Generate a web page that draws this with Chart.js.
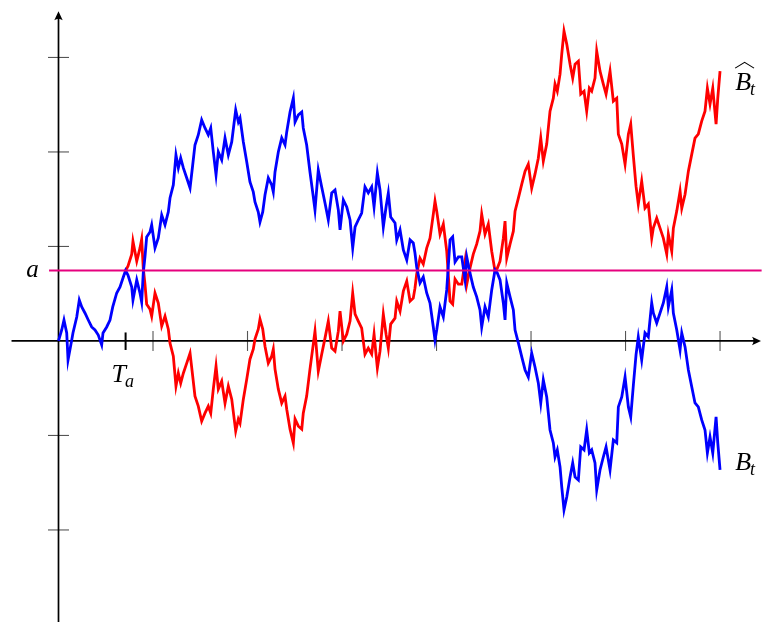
<!DOCTYPE html>
<html>
<head>
<meta charset="utf-8">
<script src="https://cdn.jsdelivr.net/npm/chart.js@4/dist/chart.umd.min.js"></script>
<style>
  html, body { margin: 0; padding: 0; background: #fff; overflow: hidden; }
  canvas { display: block; }
</style>
</head>
<body>
<canvas id="c" width="762" height="622"></canvas>
<script>
// Sample times of the Brownian path B_t
const times = [
  0, 0.034, 0.058, 0.087, 0.101, 0.140, 0.153, 0.193, 0.220, 0.246,
  0.280, 0.315, 0.351, 0.386, 0.421, 0.457, 0.471, 0.510, 0.545, 0.574,
  0.616, 0.651, 0.686, 0.71,
  0.735, 0.775, 0.788, 0.828, 0.862, 0.880, 0.897, 0.915, 0.933, 0.968,
  0.986, 1.021, 1.056, 1.092, 1.127, 1.162, 1.180, 1.215, 1.243, 1.268,
  1.293, 1.321, 1.357, 1.392, 1.420, 1.444, 1.479, 1.515, 1.550, 1.585,
  1.611, 1.638, 1.667, 1.691, 1.727, 1.762, 1.797, 1.833, 1.875, 1.903,
  1.921, 1.956, 1.992, 2.026, 2.061, 2.079, 2.114, 2.132, 2.161, 2.185,
  2.220, 2.256, 2.273, 2.291, 2.326, 2.362, 2.397, 2.415, 2.450, 2.485,
  2.503, 2.538, 2.574, 2.590, 2.626, 2.661, 2.696, 2.714, 2.749, 2.785,
  2.820, 2.855, 2.891, 2.926, 2.961, 2.979, 3.014, 3.050, 3.085, 3.113,
  3.138, 3.172, 3.208, 3.243, 3.278, 3.314, 3.339, 3.374, 3.402, 3.437,
  3.466, 3.490, 3.515, 3.561, 3.579, 3.614, 3.649, 3.685, 3.720, 3.754,
  3.772, 3.790, 3.825, 3.860, 3.896, 3.931, 3.966, 3.984, 4.002, 4.037,
  4.072, 4.108, 4.143, 4.171, 4.196, 4.231, 4.267, 4.302, 4.320, 4.354,
  4.389, 4.425, 4.460, 4.478, 4.513, 4.548, 4.584, 4.619, 4.643, 4.672,
  4.707, 4.725, 4.743, 4.778, 4.813, 4.831, 4.866, 4.902, 4.937, 4.971,
  5.007, 5.042, 5.077, 5.103, 5.130, 5.166, 5.183, 5.201, 5.236, 5.254,
  5.278, 5.307, 5.325, 5.349, 5.378, 5.413, 5.441, 5.466, 5.501, 5.526,
  5.561, 5.589, 5.617, 5.642, 5.677, 5.695, 5.730, 5.765, 5.794, 5.818,
  5.836, 5.871, 5.907, 5.924, 5.960, 5.995, 6.030, 6.055, 6.083, 6.111,
  6.135, 6.171, 6.206, 6.241, 6.277, 6.294, 6.330, 6.365, 6.400, 6.436,
  6.453, 6.489, 6.506, 6.542, 6.577, 6.595, 6.630, 6.665, 6.701, 6.735,
  6.770, 6.806, 6.841, 6.866, 6.894, 6.923, 6.958, 6.976, 7.000
];

// Values of B_t at those times
const pathB = [
  0, 0.116, 0.222, 0.085, -0.201, 0.011, 0.085, 0.254, 0.434, 0.360,
  0.296, 0.222, 0.148, 0.116, 0.063, -0.042, 0.085, 0.148, 0.222, 0.360,
  0.508, 0.571, 0.677, 0.745,
  0.698, 0.571, 0.434, 0.646, 0.508, 0.413, 0.720, 0.889, 1.101, 1.153,
  1.228, 0.984, 1.090, 1.333, 1.228, 1.365, 1.513, 1.651, 1.968, 1.831,
  1.937, 1.831, 1.725, 1.619, 1.862, 2.074, 2.180, 2.339, 2.254, 2.180,
  2.254, 2.000, 1.757, 2.000, 1.915, 2.148, 1.968, 2.106, 2.444, 2.317,
  2.360, 2.106, 1.894, 1.683, 1.577, 1.471, 1.365, 1.259, 1.365, 1.545,
  1.725, 1.651, 1.577, 1.788, 2.000, 2.148, 2.074, 2.212, 2.423, 2.571,
  2.317, 2.392, 2.423, 2.254, 2.074, 1.788, 1.524, 1.386, 1.810, 1.630,
  1.460, 1.280, 1.566, 1.598, 1.386, 1.175, 1.492, 1.418, 1.280, 0.984,
  1.206, 1.280, 1.354, 1.630, 1.566, 1.630, 1.418, 1.778, 1.598, 1.206,
  1.418, 1.566, 1.312, 1.249, 1.069, 1.175, 0.963, 0.857, 1.069, 1.037,
  0.931, 0.783, 0.614, 0.677, 0.508, 0.402, 0.148, 0.011, 0.116, 0.360,
  0.254, 0.540, 1.069, 1.101, 0.836, 0.889, 0.889, 0.646, 0.889, 0.720,
  0.571, 0.466, 0.328, 0.148, 0.360, 0.254, 0.540, 0.751, 0.720, 0.646,
  0.402, 0.222, 0.614, 0.466, 0.328, 0.116, -0.021, -0.169, -0.307, -0.381,
  -0.127, -0.275, -0.444, -0.656, -0.413, -0.593, -0.762, -0.942, -1.079, -1.228,
  -1.153, -1.333, -1.545, -1.788, -1.651, -1.439, -1.291, -1.439, -1.471, -1.122,
  -1.153, -0.942, -1.185, -1.153, -1.291, -1.577, -1.365, -1.228, -1.122, -1.259,
  -1.365, -1.048, -1.079, -0.698, -0.593, -0.381, -0.698, -0.804, -0.466, -0.148,
  0.042, -0.201, 0.085, 0.042, 0.402, 0.296, 0.190, 0.296, 0.402, 0.571,
  0.360, 0.540, 0.296, 0.116, -0.095, 0.085, -0.063, -0.307, -0.487, -0.656,
  -0.698, -0.836, -0.942, -1.185, -1.016, -1.185, -0.804, -1.079, -1.365
];

// Reflected path \hat B_t, from the hitting time T_a onwards
const reflected = [
  0.745,
  0.792, 0.919, 1.056, 0.844, 0.982, 1.077, 0.770, 0.601, 0.389, 0.337,
  0.262, 0.506, 0.400, 0.157, 0.262, 0.125, -0.023, -0.161, -0.478, -0.341,
  -0.447, -0.341, -0.235, -0.129, -0.372, -0.584, -0.690, -0.849, -0.764, -0.690,
  -0.764, -0.510, -0.267, -0.510, -0.425, -0.658, -0.478, -0.616, -0.954, -0.827,
  -0.870, -0.616, -0.404, -0.193, -0.087, 0.019, 0.125, 0.231, 0.125, -0.055,
  -0.235, -0.161, -0.087, -0.298, -0.510, -0.658, -0.584, -0.722, -0.933, -1.081,
  -0.827, -0.902, -0.933, -0.764, -0.584, -0.298, -0.034, 0.104, -0.320, -0.140,
  0.030, 0.210, -0.076, -0.108, 0.104, 0.315, -0.002, 0.072, 0.210, 0.506,
  0.284, 0.210, 0.136, -0.140, -0.076, -0.140, 0.072, -0.288, -0.108, 0.284,
  0.072, -0.076, 0.178, 0.241, 0.421, 0.315, 0.527, 0.633, 0.421, 0.453,
  0.559, 0.707, 0.876, 0.813, 0.982, 1.088, 1.342, 1.479, 1.374, 1.130,
  1.236, 0.950, 0.421, 0.389, 0.654, 0.601, 0.601, 0.844, 0.601, 0.770,
  0.919, 1.024, 1.162, 1.342, 1.130, 1.236, 0.950, 0.739, 0.770, 0.844,
  1.088, 1.268, 0.876, 1.024, 1.162, 1.374, 1.511, 1.659, 1.797, 1.871,
  1.617, 1.765, 1.934, 2.146, 1.903, 2.083, 2.252, 2.432, 2.569, 2.718,
  2.643, 2.823, 3.035, 3.278, 3.141, 2.929, 2.781, 2.929, 2.961, 2.612,
  2.643, 2.432, 2.675, 2.643, 2.781, 3.067, 2.855, 2.718, 2.612, 2.749,
  2.855, 2.538, 2.569, 2.188, 2.083, 1.871, 2.188, 2.294, 1.956, 1.638,
  1.448, 1.691, 1.405, 1.448, 1.088, 1.194, 1.300, 1.194, 1.088, 0.919,
  1.130, 0.950, 1.194, 1.374, 1.585, 1.405, 1.553, 1.797, 1.977, 2.146,
  2.188, 2.326, 2.432, 2.675, 2.506, 2.675, 2.294, 2.569, 2.855
];

const levelA = 0.745;       // the level a
const hitTime = 0.71;       // T_a, first time B reaches a
const xTicks = [1, 2, 3, 4, 5, 6, 7];
const yTicks = [-2, -1, 1, 2, 3];

const iHit = times.indexOf(hitTime);
const bluePts = times.map((t, i) => ({ x: t, y: pathB[i] }));
const redPts = times.slice(iHit, iHit + reflected.length).map((t, i) => ({ x: t, y: reflected[i] }));

const SERIF = "'Liberation Serif', 'DejaVu Serif', serif";

function arrowHead(ctx, x, y, dir) {
  // dir: 'right' or 'up'; a small stealth-like head with tip at (x, y)
  ctx.save();
  ctx.translate(x, y);
  if (dir === 'up') ctx.rotate(-Math.PI / 2);
  ctx.beginPath();
  ctx.moveTo(0, 0);
  ctx.lineTo(-9, -4.2);
  ctx.quadraticCurveTo(-6, 0, -9, 4.2);
  ctx.closePath();
  ctx.fillStyle = '#000';
  ctx.fill();
  ctx.restore();
}

function mathLabel(ctx, base, sub, x, y, size, hat) {
  ctx.save();
  ctx.fillStyle = '#000';
  ctx.textBaseline = 'alphabetic';
  ctx.textAlign = 'left';
  ctx.font = 'italic ' + size + 'px ' + SERIF;
  ctx.fillText(base, x, y);
  const w = ctx.measureText(base).width;
  if (hat) {
    ctx.beginPath();
    ctx.moveTo(x, y - size * 0.84);
    ctx.lineTo(x + w / 2 + 1.5, y - size * 1.06);
    ctx.lineTo(x + w + 3, y - size * 0.84);
    ctx.lineWidth = 1.1;
    ctx.strokeStyle = '#000';
    ctx.stroke();
  }
  if (sub) {
    ctx.font = 'italic ' + Math.round(size * 0.7) + 'px ' + SERIF;
    ctx.fillText(sub, x + w - 1, y + size * 0.2);
  }
  ctx.restore();
}

const axesPlugin = {
  id: 'axesPlugin',
  beforeDatasetsDraw(chart) {
    const ctx = chart.ctx;
    const xs = chart.scales.x, ys = chart.scales.y;
    const x0 = xs.getPixelForValue(0), y0 = ys.getPixelForValue(0);
    ctx.save();
    // tick marks
    ctx.strokeStyle = 'rgb(85,85,85)';
    ctx.lineWidth = 1.1;
    yTicks.forEach(v => {
      const py = ys.getPixelForValue(v);
      ctx.beginPath(); ctx.moveTo(x0 - 10.5, py); ctx.lineTo(x0 + 10.5, py); ctx.stroke();
    });
    xTicks.forEach(t => {
      const px = xs.getPixelForValue(t);
      ctx.beginPath(); ctx.moveTo(px, y0 - 10); ctx.lineTo(px, y0 + 10); ctx.stroke();
    });
    // axes
    ctx.strokeStyle = '#000';
    ctx.lineWidth = 1.7;
    const xl = xs.getPixelForValue(-0.497), xr = chart.width - 1;
    ctx.beginPath(); ctx.moveTo(xl, y0); ctx.lineTo(xr - 4, y0); ctx.stroke();
    const yb = chart.height, yt = ys.getPixelForValue(3.49);
    ctx.beginPath(); ctx.moveTo(x0, yb); ctx.lineTo(x0, yt + 4); ctx.stroke();
    arrowHead(ctx, xr, y0, 'right');
    arrowHead(ctx, x0, yt, 'up');
    // T_a tick
    const pa = xs.getPixelForValue(hitTime);
    ctx.lineWidth = 2;
    ctx.beginPath(); ctx.moveTo(pa, y0 - 8.5); ctx.lineTo(pa, y0 + 9); ctx.stroke();
    ctx.restore();
  },
  afterDatasetsDraw(chart) {
    const ctx = chart.ctx;
    const xs = chart.scales.x, ys = chart.scales.y;
    const pa = xs.getPixelForValue(hitTime);
    const y0 = ys.getPixelForValue(0);
    // a
    mathLabel(ctx, 'a', null, xs.getPixelForValue(-0.34), ys.getPixelForValue(levelA) + 6, 25, false);
    // T_a
    mathLabel(ctx, 'T', 'a', pa - 14, y0 + 41, 26, false);
    // path names
    const xr = xs.getPixelForValue(7.16);
    mathLabel(ctx, 'B', 't', xr, ys.getPixelForValue(2.656), 26, true);
    mathLabel(ctx, 'B', 't', xr, ys.getPixelForValue(-1.365), 26, false);
  }
};

new Chart(document.getElementById('c'), {
  type: 'scatter',
  data: {
    datasets: [
      {
        label: 'a',
        data: [{ x: -0.10, y: levelA }, { x: 7.44, y: levelA }],
        showLine: true, borderColor: '#e6007e', borderWidth: 2,
        pointRadius: 0, tension: 0
      },
      {
        label: 'B_t',
        data: bluePts,
        showLine: true, borderColor: '#0000ff', borderWidth: 2.8,
        pointRadius: 0, tension: 0, borderJoinStyle: 'miter'
      },
      {
        label: 'reflected',
        data: redPts,
        showLine: true, borderColor: '#ff0000', borderWidth: 2.8,
        pointRadius: 0, tension: 0, borderJoinStyle: 'miter'
      }
    ]
  },
  options: {
    responsive: false,
    animation: false,
    devicePixelRatio: 1,
    events: [],
    layout: { padding: 0 },
    plugins: { legend: { display: false }, tooltip: { enabled: false } },
    scales: {
      x: { type: 'linear', display: false, min: -0.619, max: 7.444 },
      y: { type: 'linear', display: false, min: -2.974, max: 3.608 }
    }
  },
  plugins: [axesPlugin]
});
</script>
</body>
</html>
